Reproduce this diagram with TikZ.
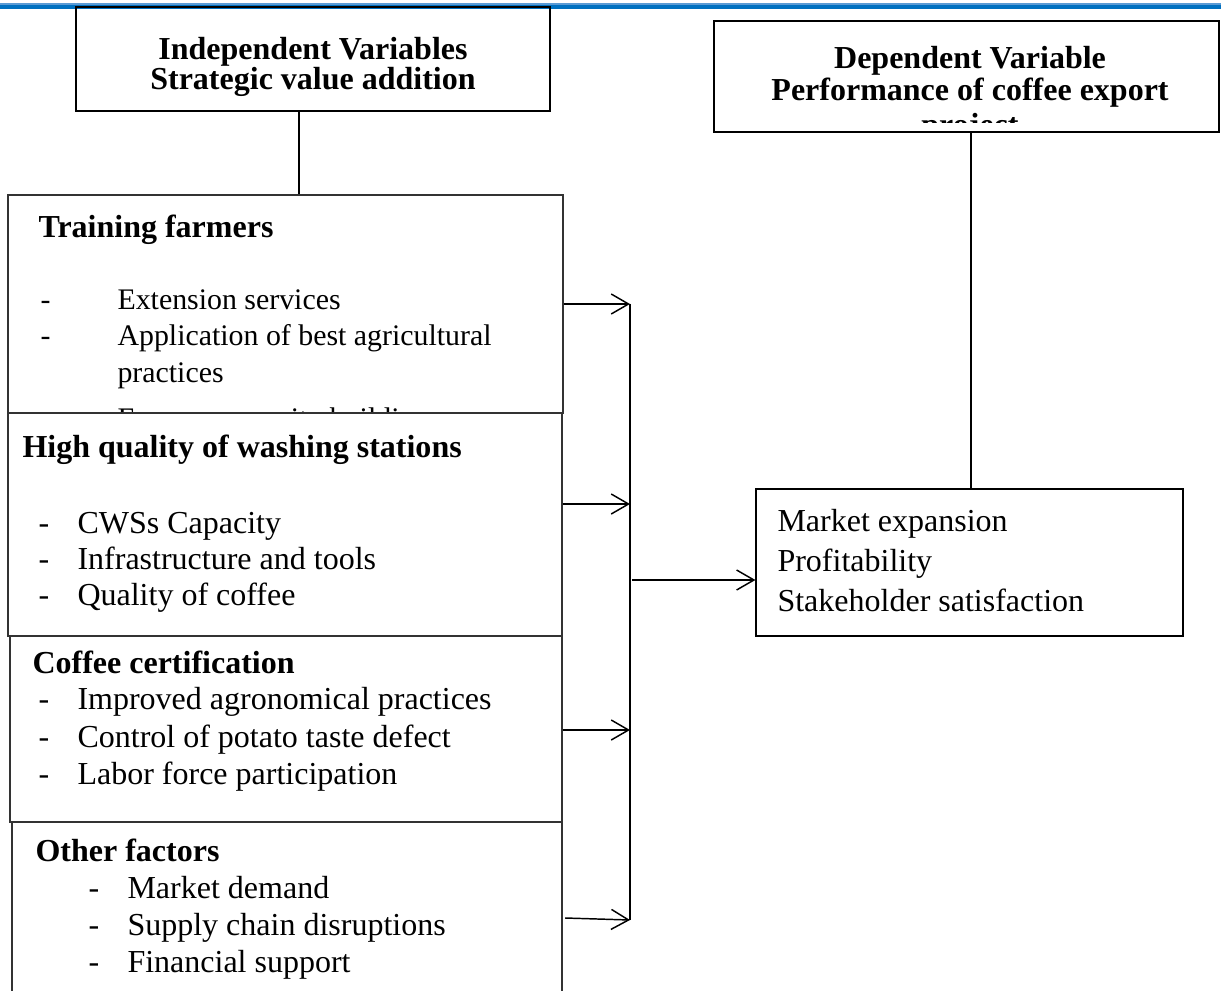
\documentclass[tikz,border=0pt]{standalone}
\usepackage{fontspec}
\setmainfont{Liberation Serif}
\usetikzlibrary{arrows.meta,fit}
\definecolor{bandblue}{RGB}{0,112,192}
\definecolor{bandlight}{RGB}{91,155,213}
\begin{document}
\begin{tikzpicture}[x=0.375pt,y=-0.375pt,
  box/.style={draw=black!80, line width=0.45pt, inner sep=0pt},
  hbox/.style={draw=black, line width=0.9pt, inner sep=0pt},
  txt/.style={inner sep=0pt, anchor=base west, font=\fontsize{12pt}{14pt}\selectfont},
  stxt/.style={inner sep=0pt, anchor=base west, font=\fontsize{11.2pt}{13pt}\selectfont},
  btxt/.style={inner sep=0pt, anchor=base west, font=\fontsize{12pt}{14pt}\selectfont\bfseries},
  htxt/.style={inner sep=0pt, anchor=base, font=\fontsize{12pt}{14pt}\selectfont\bfseries},
  conn/.style={line width=0.55pt},
  arr/.style={conn, -{Straight Barb[length=6.5pt,width=7.5pt]}}]
\useasboundingbox (0,0) rectangle (1221,990);
\fill[white] (0,0) rectangle (1221,990);
% top band
\fill[bandblue] (0,4) rectangle (1221,9.5);
\fill[bandlight] (0,3.5) rectangle (1221,5);

% header boxes
\node[hbox, fit={(76,7) (550,111)}] (indep) {};
\node[htxt] (indep1) at (313,60) {Independent Variables};
\node[htxt] (indep2) at (313,90) {Strategic value addition};

\node[hbox, fit={(714,21) (1219,132)}] (dep) {};
\node[htxt] (dep1) at (970,69) {Dependent Variable};
\node[htxt] (dep2) at (970,101) {Performance of coffee export};
\begin{scope}
  \clip (716,112) rectangle (1217,123);
  \node[htxt] (dep3) at (970,136) {project};
\end{scope}

% left boxes
\node[box, fit={(8,195) (563,413)}] (train) {};
\node[box, fit={(8,413) (562,636)}] (wash) {};
\node[box, fit={(10,636) (562,822)}] (cert) {};
\draw[draw=black!80, line width=0.45pt] (12,1000) -- (12,822) -- (562,822) -- (562,1000);
\coordinate (otherE) at (562,918);

% Training farmers
\node[btxt] (t0) at (38,238) {Training farmers};
\node[stxt] (t1d) at (40,310) {-};
\node[stxt] (t1) at (117,310) {Extension services};
\node[stxt] (t2d) at (40,346) {-};
\node[stxt] (t2) at (117,346) {Application of best agricultural};
\node[stxt] (t3) at (117,383) {practices};
\begin{scope}
  \clip (10,403) rectangle (560,411);
  \node[stxt] (t4d) at (40,428) {-};
  \node[stxt] (t4) at (117,428) {Farmers capacity building};
\end{scope}

% High quality of washing stations
\node[btxt] (w0) at (22,457) {High quality of washing stations};
\node[txt] (w1d) at (38,533) {-};
\node[txt] (w1) at (77,533) {CWSs Capacity};
\node[txt] (w2d) at (38,569) {-};
\node[txt] (w2) at (77,569) {Infrastructure and tools};
\node[txt] (w3d) at (38,605) {-};
\node[txt] (w3) at (77,605) {Quality of coffee};

% Coffee certification
\node[btxt] (c0) at (32,673) {Coffee certification};
\node[txt] (c1d) at (38,709) {-};
\node[txt] (c1) at (77,709) {Improved agronomical practices};
\node[txt] (c2d) at (38,747) {-};
\node[txt] (c2) at (77,747) {Control of potato taste defect};
\node[txt] (c3d) at (38,784) {-};
\node[txt] (c3) at (77,784) {Labor force participation};

% Other factors
\node[btxt] (o0) at (35,861) {Other factors};
\node[txt] (o1d) at (88,898) {-};
\node[txt] (o1) at (127,898) {Market demand};
\node[txt] (o2d) at (88,935) {-};
\node[txt] (o2) at (127,935) {Supply chain disruptions};
\node[txt] (o3d) at (88,972) {-};
\node[txt] (o3) at (127,972) {Financial support};

% outcome box
\node[box, draw=black, fit={(756,489) (1183,636)}] (market) {};
\node[txt] (m1) at (777,531) {Market expansion};
\node[txt] (m2) at (777,571) {Profitability};
\node[txt] (m3) at (777,611) {Stakeholder satisfaction};

% connectors
\coordinate (ci) at (299,111);
\draw[conn] (indep.south -| ci) -- (train.north -| ci);
\coordinate (cd) at (971,132);
\draw[conn] (dep.south -| cd) -- (market.north -| cd);

\coordinate (j1) at (630,304);
\coordinate (j2) at (630,504);
\coordinate (j3) at (630,730);
\coordinate (j4) at (630,920);
\coordinate (j0) at (632,580);
\draw[conn] (j1) -- (j4);
\draw[arr] (train.east |- j1) -- (j1);
\draw[arr] (wash.east |- j2) -- (j2);
\draw[arr] (cert.east |- j3) -- (j3);
\draw[arr] ([xshift=1.2pt]otherE) -- (j4);
\draw[arr] (j0) -- (market.west |- j0);
\end{tikzpicture}
\end{document}
